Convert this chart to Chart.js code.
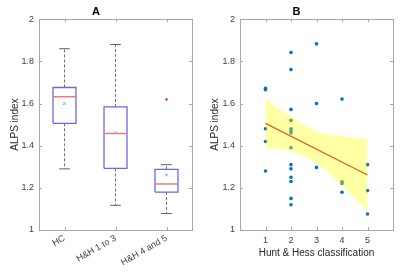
<!DOCTYPE html>
<html>
<head>
<meta charset="utf-8">
<script src="https://cdn.jsdelivr.net/npm/chart.js@4"></script>
<style>
    body {margin: 0; background: #fff;}
    #wrap {position: relative; width: 400px; height: 272px;}
    canvas {position: absolute; top: 0;}
</style>
</head>
<body>
<div id="wrap">
    <canvas id="chartA" width="200" height="272" style="left:0"></canvas>
    <canvas id="chartB" width="200" height="272" style="left:200px"></canvas>
</div>
<script>
// panel A: box plot stats per group
const groups = ['HC', 'H&H 1 to 3', 'H&H 4 and 5'];
const whiskHi = [1.86, 1.88, 1.31];
const q3 = [1.676, 1.584, 1.288];
const med = [1.632, 1.458, 1.218];
const q1 = [1.506, 1.292, 1.18];
const whiskLo = [1.29, 1.117, 1.078];
const means = [1.60, 1.461, 1.261];
const outGroup = [3];
const outVal = [1.62];

// panel B: patients by Hunt & Hess grade
const hhX = [1, 1, 1, 1, 1,
    2, 2, 2, 2, 2, 2, 2, 2, 2, 2, 2, 2, 2, 2,
    3, 3, 3,
    4, 4, 4, 4,
    5, 5, 5];
const hhY = [1.672, 1.665, 1.48, 1.42, 1.28,
    1.842, 1.761, 1.572, 1.52, 1.48, 1.47, 1.46, 1.39, 1.31, 1.29, 1.25, 1.23, 1.15, 1.12,
    1.883, 1.60, 1.297,
    1.621, 1.229, 1.221, 1.179,
    1.31, 1.187, 1.076];
const fitX = [1, 5];
const fitY = [1.506, 1.261];
const bandX = [1, 1.5, 2, 2.5, 3, 3.5, 4, 4.5, 5];
const bandHi = [1.624, 1.575, 1.54, 1.497, 1.467, 1.452, 1.445, 1.438, 1.434];
const bandLo = [1.387, 1.384, 1.372, 1.35, 1.318, 1.27, 1.21, 1.15, 1.087];

const yTicks = [1, 1.2, 1.4, 1.6, 1.8, 2];

Chart.defaults.font.family = '"Liberation Sans", Arial, Helvetica, sans-serif';
Chart.defaults.font.size = 9;
Chart.defaults.color = '#404040';

const bw = 0.225, cw = 0.105;

function segs(list) {
    const out = [];
    list.forEach(function (s) {
        out.push({x: s[0], y: s[1]}, {x: s[2], y: s[3]}, {x: s[2], y: null});
    });
    return out;
}

function pts(xs, ys) {
    return xs.map(function (x, i) { return {x: x, y: ys[i]}; });
}

// inward ticks + box around the axes, MATLAB style
const frame = {
    id: 'frame',
    afterDraw(chart) {
        const {ctx, chartArea: a, scales: {x, y}} = chart;
        ctx.save();
        ctx.strokeStyle = '#a8a8a8';
        ctx.lineWidth = 1;
        ctx.beginPath();
        y.ticks.forEach(function (t) {
            const p = Math.round(y.getPixelForValue(t.value)) + 0.5;
            ctx.moveTo(a.left, p); ctx.lineTo(a.left + 3, p);
            ctx.moveTo(a.right, p); ctx.lineTo(a.right - 3, p);
        });
        x.ticks.forEach(function (t) {
            const p = Math.round(x.getPixelForValue(t.value)) + 0.5;
            ctx.moveTo(p, a.bottom); ctx.lineTo(p, a.bottom - 3);
            ctx.moveTo(p, a.top); ctx.lineTo(p, a.top + 3);
        });
        ctx.stroke();
        ctx.strokeRect(Math.round(a.left) + 0.5, Math.round(a.top) + 0.5,
            Math.round(a.right - a.left), Math.round(a.bottom - a.top));
        ctx.restore();
    }
};

function yScale() {
    return {
        min: 1, max: 2,
        afterBuildTicks: function (s) { s.ticks = yTicks.map(function (v) { return {value: v}; }); },
        afterFit: function (s) { s.width = 39; },
        grid: {display: false, drawTicks: false},
        border: {display: false},
        ticks: {padding: 5, font: {size: 9}, callback: function (v) { return String(Number(v.toFixed(1))); }},
        title: {display: true, text: 'ALPS index', font: {size: 10}, color: '#262626', padding: {top: 9, bottom: 0}}
    };
}

function titleOpt(t) {
    return {display: true, text: t, color: '#000', font: {size: 11, weight: 'bold'}, padding: {top: 5, bottom: 1}};
}

// ---- panel A
const boxPts = [], medPts = [], whiskPts = [], capPts = [];
groups.forEach(function (g, i) {
    const x = i + 1;
    boxPts.push({x: x - bw, y: q1[i]}, {x: x + bw, y: q1[i]}, {x: x + bw, y: q3[i]},
        {x: x - bw, y: q3[i]}, {x: x - bw, y: q1[i]}, {x: x - bw, y: null});
    medPts.push(...segs([[x - bw, med[i], x + bw, med[i]]]));
    whiskPts.push(...segs([[x, q3[i], x, whiskHi[i]], [x, q1[i], x, whiskLo[i]]]));
    capPts.push(...segs([[x - cw, whiskHi[i], x + cw, whiskHi[i]], [x - cw, whiskLo[i], x + cw, whiskLo[i]]]));
});

new Chart(document.getElementById('chartA'), {
    type: 'scatter',
    data: {
        datasets: [
            {data: medPts, showLine: true, spanGaps: false, borderColor: '#ea7d7d', borderWidth: 1.5, pointRadius: 0},
            {data: boxPts, showLine: true, spanGaps: false, borderColor: '#6a6ae0', borderWidth: 1.3, pointRadius: 0},
            {data: whiskPts, showLine: true, spanGaps: false, borderColor: '#707070', borderWidth: 1, borderDash: [3, 2], pointRadius: 0},
            {data: capPts, showLine: true, spanGaps: false, borderColor: '#606060', borderWidth: 1, pointRadius: 0},
            {data: pts([1, 2, 3], means), pointStyle: 'crossRot', pointRadius: 2, borderWidth: 1, borderColor: '#4DBEEE'},
            {data: pts(outGroup, outVal), pointStyle: 'cross', pointRadius: 1.5, borderWidth: 1, borderColor: '#e03030'}
        ]
    },
    options: {
        responsive: false,
        animation: false,
        layout: {padding: {right: 8}},
        plugins: {legend: {display: false}, tooltip: {enabled: false}, title: titleOpt('A')},
        scales: {
            x: {
                type: 'linear', min: 0.5, max: 3.5,
                afterBuildTicks: function (s) { s.ticks = groups.map(function (g, i) { return {value: i + 1}; }); },
                afterFit: function (s) { s.height = 42; },
                grid: {display: false, drawTicks: false},
                border: {display: false},
                ticks: {padding: 3, minRotation: 30, maxRotation: 30, font: {size: 9},
                    callback: function (v) { return groups[v - 1]; }}
            },
            y: yScale()
        }
    },
    plugins: [frame]
});

// ---- panel B
new Chart(document.getElementById('chartB'), {
    type: 'scatter',
    data: {
        datasets: [
            {data: pts(fitX, fitY), showLine: true, borderColor: '#e0621f', borderWidth: 1.3, pointRadius: 0, order: 0},
            {data: pts(bandX, bandHi), showLine: true, borderWidth: 0, pointRadius: 0, fill: '+1',
                backgroundColor: 'rgba(255,255,0,0.36)', order: 1},
            {data: pts(bandX, bandLo), showLine: true, borderWidth: 0, pointRadius: 0, order: 1},
            {data: pts(hhX, hhY), pointRadius: 1.8, pointBackgroundColor: '#0072BD', pointBorderWidth: 0, order: 2}
        ]
    },
    options: {
        responsive: false,
        animation: false,
        layout: {padding: {right: 7}},
        plugins: {legend: {display: false}, tooltip: {enabled: false}, title: titleOpt('B')},
        scales: {
            x: {
                type: 'linear', min: 0, max: 6,
                afterBuildTicks: function (s) { s.ticks = [1, 2, 3, 4, 5].map(function (v) { return {value: v}; }); },
                afterFit: function (s) { s.height = 42; },
                grid: {display: false, drawTicks: false},
                border: {display: false},
                ticks: {padding: 5, maxRotation: 0, font: {size: 9}},
                title: {display: true, text: 'Hunt & Hess classification', font: {size: 10}, color: '#262626', padding: {top: 0, bottom: 13}}
            },
            y: Object.assign(yScale(), {afterFit: function (s) { s.width = 40; }})
        }
    },
    plugins: [frame]
});
</script>
</body>
</html>
